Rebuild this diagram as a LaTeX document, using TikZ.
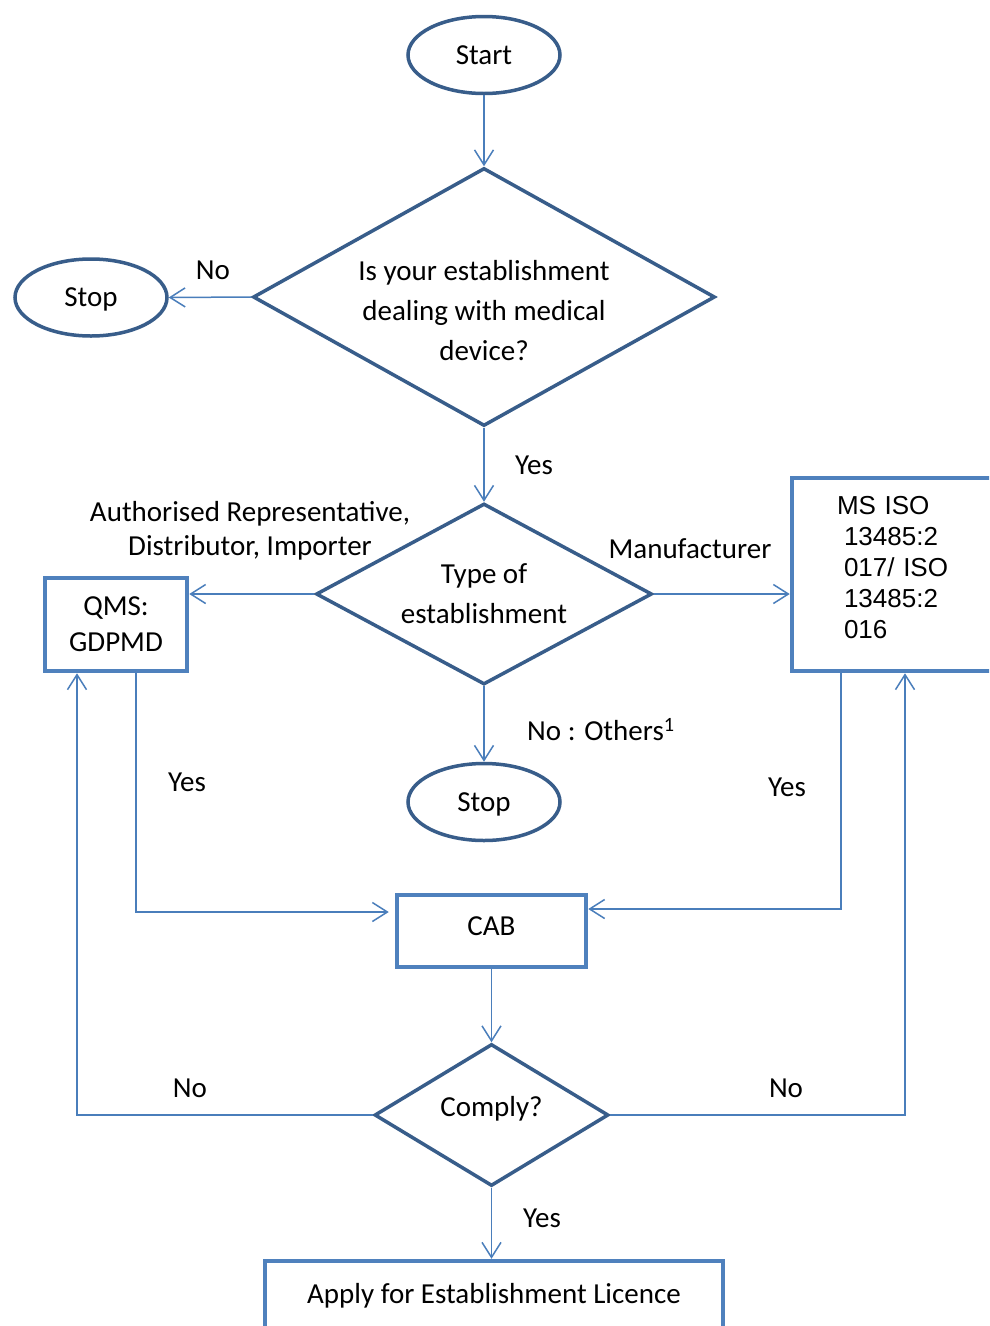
\documentclass[tikz,border=0pt]{standalone}
\usepackage{fontspec}
\setmainfont{Carlito}
\newfontfamily\arialfont{Liberation Sans}
\usetikzlibrary{shapes, arrows.meta, calc}
\definecolor{shapeblue}{RGB}{56,93,138}
\definecolor{boxblue}{RGB}{79,129,189}
\definecolor{lineblue}{RGB}{74,126,187}
\tikzset{
    term/.style = {ellipse, draw=shapeblue, line width=3.5pt, minimum width=152pt, minimum height=77pt, inner sep=0pt, text depth=0pt},
    decide/.style = {diamond, draw=shapeblue, line width=3.5pt, inner sep=0pt, align=center},
    proc/.style = {rectangle, draw=boxblue, line width=4.5pt, inner sep=0pt, align=center},
    link/.style = {draw=lineblue, line width=1.5pt, -{Straight Barb[length=15pt, width=19pt]}},
    lbl/.style = {align=center, inner sep=0pt}
}

\begin{document}
\begin{tikzpicture}[x=1pt, y=-1pt, every node/.style={font=\fontsize{29}{40}\selectfont}]
    \clip (0,0) rectangle (989,1326);
    \fill[white] (0,0) rectangle (989,1326);

    \node[term] (start) at (484,55) {Start};
    \node[decide, minimum width=462pt, minimum height=258pt, aspect=1.79] (ask) at (484,297) {};
    \node[lbl] (asktxt) at (484,311) {Is your establishment\\dealing with medical\\device?};
    \node[term, text depth=-8pt] (stop1) at (91,297.5) {Stop};
    \node[decide, minimum width=336pt, minimum height=181pt, aspect=1.86] (kind) at (484,594)
        {Type of\\establishment};
    \node[proc, minimum width=142pt, minimum height=93pt, font=\fontsize{29}{36}\selectfont] (qms) at (116,624.5)
        {QMS:\\GDPMD};
    \node[proc, minimum width=210pt, minimum height=193pt, text width=120pt, align=left, text depth=138pt,
        font=\arialfont\fontsize{26}{31}\selectfont] (iso) at (897,574.5)
        {MS ISO\\\hspace*{7pt}13485:2\\\hspace*{7pt}017/ ISO\\\hspace*{7pt}13485:2\\\hspace*{7pt}016};
    \node[term, text depth=-8pt] (stop2) at (484,802) {Stop};
    \node[proc, minimum width=189pt, minimum height=72pt, text depth=10pt] (cab) at (491.5,931) {CAB};
    \node[decide, minimum width=234pt, minimum height=142pt, aspect=1.65, text depth=18pt] (comply) at (491.5,1115) {Comply?};
    \node[proc, minimum width=458pt, minimum height=70pt] (apply) at (494,1296) {Apply for Establishment Licence};

    \node[lbl] (no1) at (213,270) {No};
    \node[lbl] (yes1) at (534,465) {Yes};
    \node[lbl, font=\fontsize{29}{34}\selectfont] (arep) at (250,531) {Authorised Representative,\\Distributor, Importer};
    \node[lbl] (manu) at (690,549) {Manufacturer};
    \node[lbl, anchor=west] (others) at (527,730) {No : Others\textsuperscript{1}};
    \node[lbl] (yes2) at (187,782) {Yes};
    \node[lbl] (yes3) at (787,787) {Yes};
    \node[lbl] (no2) at (190,1088) {No};
    \node[lbl] (no3) at (786,1088) {No};
    \node[lbl] (yes4) at (542,1218) {Yes};

    \draw[link] (start) -- (ask);
    \draw[link] (ask.west) -- (stop1.east);
    \draw[link] (ask.south) -- (kind.north);
    \draw[link] (kind.west) -- (kind.west -| qms.east);
    \draw[link] (kind.east) -- (kind.east -| iso.west);
    \draw[link] (kind.south) -- (stop2.north);
    \draw[link, shorten >=6pt] ([xshift=20pt]qms.south) |- ([yshift=19pt]cab.west);
    \draw[link] ([xshift=-56pt]iso.south) |- ([yshift=22pt]cab.east);
    \draw[link] (cab.south) -- (comply.north);
    \draw[link] (comply.west) -| ([xshift=-39pt]qms.south);
    \draw[link] (comply.east) -| ([xshift=8pt]iso.south);
    \draw[link] (comply.south) -- (comply.south |- apply.north);
\end{tikzpicture}
\end{document}
